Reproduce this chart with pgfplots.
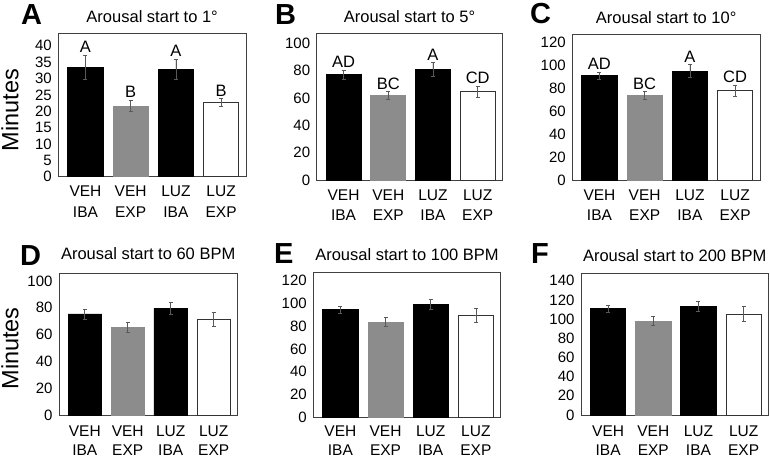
\documentclass[border=0pt]{standalone}
\usepackage{fontspec}
\setmainfont{Liberation Sans}
\usepackage{pgfplots}
\pgfplotsset{compat=1.18}
\definecolor{bargray}{HTML}{8C8C8C}
\pgfplotsset{
  panel/.style={
    scale only axis, anchor=north west,
    xmin=-0.6, xmax=3.55, ymin=0,
    xtick={0,1,2,3},
    xticklabels={VEH\\IBA, VEH\\EXP, LUZ\\IBA, LUZ\\EXP},
    xticklabel style={align=center, font=\fontsize{15.5}{20.5}\selectfont, yshift=-6pt},
    yticklabel style={font=\fontsize{15}{17}\selectfont, xshift=-3pt},
    /pgf/number format/assume math mode=true,
    major tick length=0pt,
    axis line style={draw=black!75, line width=0.8pt},
    title style={font=\fontsize{16.5}{18}\selectfont, anchor=base, at={(axis description cs:0.5,1)}},
    ylabel style={font=\fontsize{23.5}{26}\selectfont, anchor=center},
  },
  lowrow/.style={xticklabel style={font=\fontsize{15.5}{19}\selectfont, inner ysep=0.5pt, yshift=#1}},
  bars/.style={ybar, bar width=0.78, bar shift=0pt, line width=0.8pt,
    error bars/y dir=both, error bars/y explicit,
    error bars/error bar style={draw=black!65, line width=0.6pt},
    error bars/error mark options={rotate=90, mark size=2pt, draw=black!65, line width=0.6pt}},
  letters/.style={draw=none, mark=none, nodes near coords, point meta=explicit symbolic,
    nodes near coords style={anchor=base, yshift=2.5pt, inner sep=0pt, font=\fontsize{16.5}{18}\selectfont}},
}
\newcommand{\plabel}[3]{\node[anchor=base west, inner sep=0pt, font=\fontsize{29}{30}\selectfont\bfseries] at (#1pt,-#2pt) {#3};}
\begin{document}
\begin{tikzpicture}
\path[use as bounding box] (0,0) rectangle (770pt,-459pt);
% ---------- A
\begin{axis}[panel, at={(58.3pt,-33.3pt)}, width=187.7pt, height=143.4pt,
  ymax=43.8, ytick={0,5,...,40}, title={Arousal start to 1°}, title style={yshift=5pt},
  ylabel={Minutes}, ylabel style={at={(axis description cs:-0.258,0.465)}}]
\addplot[bars, fill=black, draw=black] coordinates {(0,33.4) +- (0,3.7) (2,32.8) +- (0,3.0)};
\addplot[bars, fill=bargray, draw=bargray] coordinates {(1,21.6) +- (0,1.7)};
\addplot[bars, fill=white, draw=black!80] coordinates {(3,22.6) +- (0,1.2)};
\addplot[letters] coordinates {(0,37.1)[A] (1,23.3)[B] (2,35.8)[A] (3,23.8)[B]};
\end{axis}
% ---------- B
\begin{axis}[panel, at={(316.7pt,-33.3pt)}, width=185.6pt, height=146.7pt,
  ymax=107.3, ytick={0,20,...,100}, title={Arousal start to 5°}, title style={yshift=5pt}]
\addplot[bars, fill=black, draw=black] coordinates {(0,77.1) +- (0,3.2) (2,81.0) +- (0,4.9)};
\addplot[bars, fill=bargray, draw=bargray] coordinates {(1,61.7) +- (0,3.0)};
\addplot[bars, fill=white, draw=black!80] coordinates {(3,64.6) +- (0,4.0)};
\addplot[letters] coordinates {(0,80.3)[AD] (1,64.7)[BC] (2,85.9)[A] (3,68.6)[CD]};
\end{axis}
% ---------- C
\begin{axis}[panel, at={(572.3pt,-34.3pt)}, width=187.7pt, height=145.7pt,
  ymax=127, ytick={0,20,...,120}, title={Arousal start to 10°}, title style={yshift=5pt}]
\addplot[bars, fill=black, draw=black] coordinates {(0,90.9) +- (0,3.4) (2,95.0) +- (0,5.6)};
\addplot[bars, fill=bargray, draw=bargray] coordinates {(1,73.8) +- (0,3.2)};
\addplot[bars, fill=white, draw=black!80] coordinates {(3,77.8) +- (0,4.8)};
\addplot[letters] coordinates {(0,94.3)[AD] (1,77.0)[BC] (2,100.6)[A] (3,82.6)[CD]};
\end{axis}
% ---------- D
\begin{axis}[panel, lowrow=-4pt, at={(59pt,-273.3pt)}, width=178.3pt, height=141.7pt,
  ymax=105.7, ytick={0,20,...,100}, title={Arousal start to 60 BPM}, title style={yshift=8pt},
  ylabel={Minutes}, ylabel style={at={(axis description cs:-0.275,0.47)}}]
\addplot[bars, fill=black, draw=black] coordinates {(0,75.4) +- (0,3.7) (2,79.6) +- (0,4.2)};
\addplot[bars, fill=bargray, draw=bargray] coordinates {(1,65.4) +- (0,3.7)};
\addplot[bars, fill=white, draw=black!80] coordinates {(3,71.4) +- (0,5.2)};
\end{axis}
% ---------- E
\begin{axis}[panel, lowrow=-1pt, at={(313.3pt,-272.7pt)}, width=187.4pt, height=145pt,
  ymax=126.4, ytick={0,20,...,120}, title={Arousal start to 100 BPM}, title style={yshift=6.5pt}]
\addplot[bars, fill=black, draw=black] coordinates {(0,94.0) +- (0,3.3) (2,98.5) +- (0,4.3)};
\addplot[bars, fill=bargray, draw=bargray] coordinates {(1,83.5) +- (0,3.8)};
\addplot[bars, fill=white, draw=black!80] coordinates {(3,89.0) +- (0,6.0)};
\end{axis}
% ---------- F
\begin{axis}[panel, lowrow=-4pt, at={(581pt,-273.3pt)}, width=187.5pt, height=141.7pt,
  ymax=147.7, ytick={0,20,...,140}, title={Arousal start to 200 BPM}, title style={yshift=6pt}]
\addplot[bars, fill=black, draw=black] coordinates {(0,110.8) +- (0,4.0) (2,113.3) +- (0,5.0)};
\addplot[bars, fill=bargray, draw=bargray] coordinates {(1,98.0) +- (0,4.5)};
\addplot[bars, fill=white, draw=black!80] coordinates {(3,105.3) +- (0,7.6)};
\end{axis}
\plabel{21}{24}{A}
\plabel{275}{24}{B}
\plabel{530}{23.5}{C}
\plabel{20}{265}{D}
\plabel{274}{263.3}{E}
\plabel{531}{263.3}{F}
\end{tikzpicture}
\end{document}
